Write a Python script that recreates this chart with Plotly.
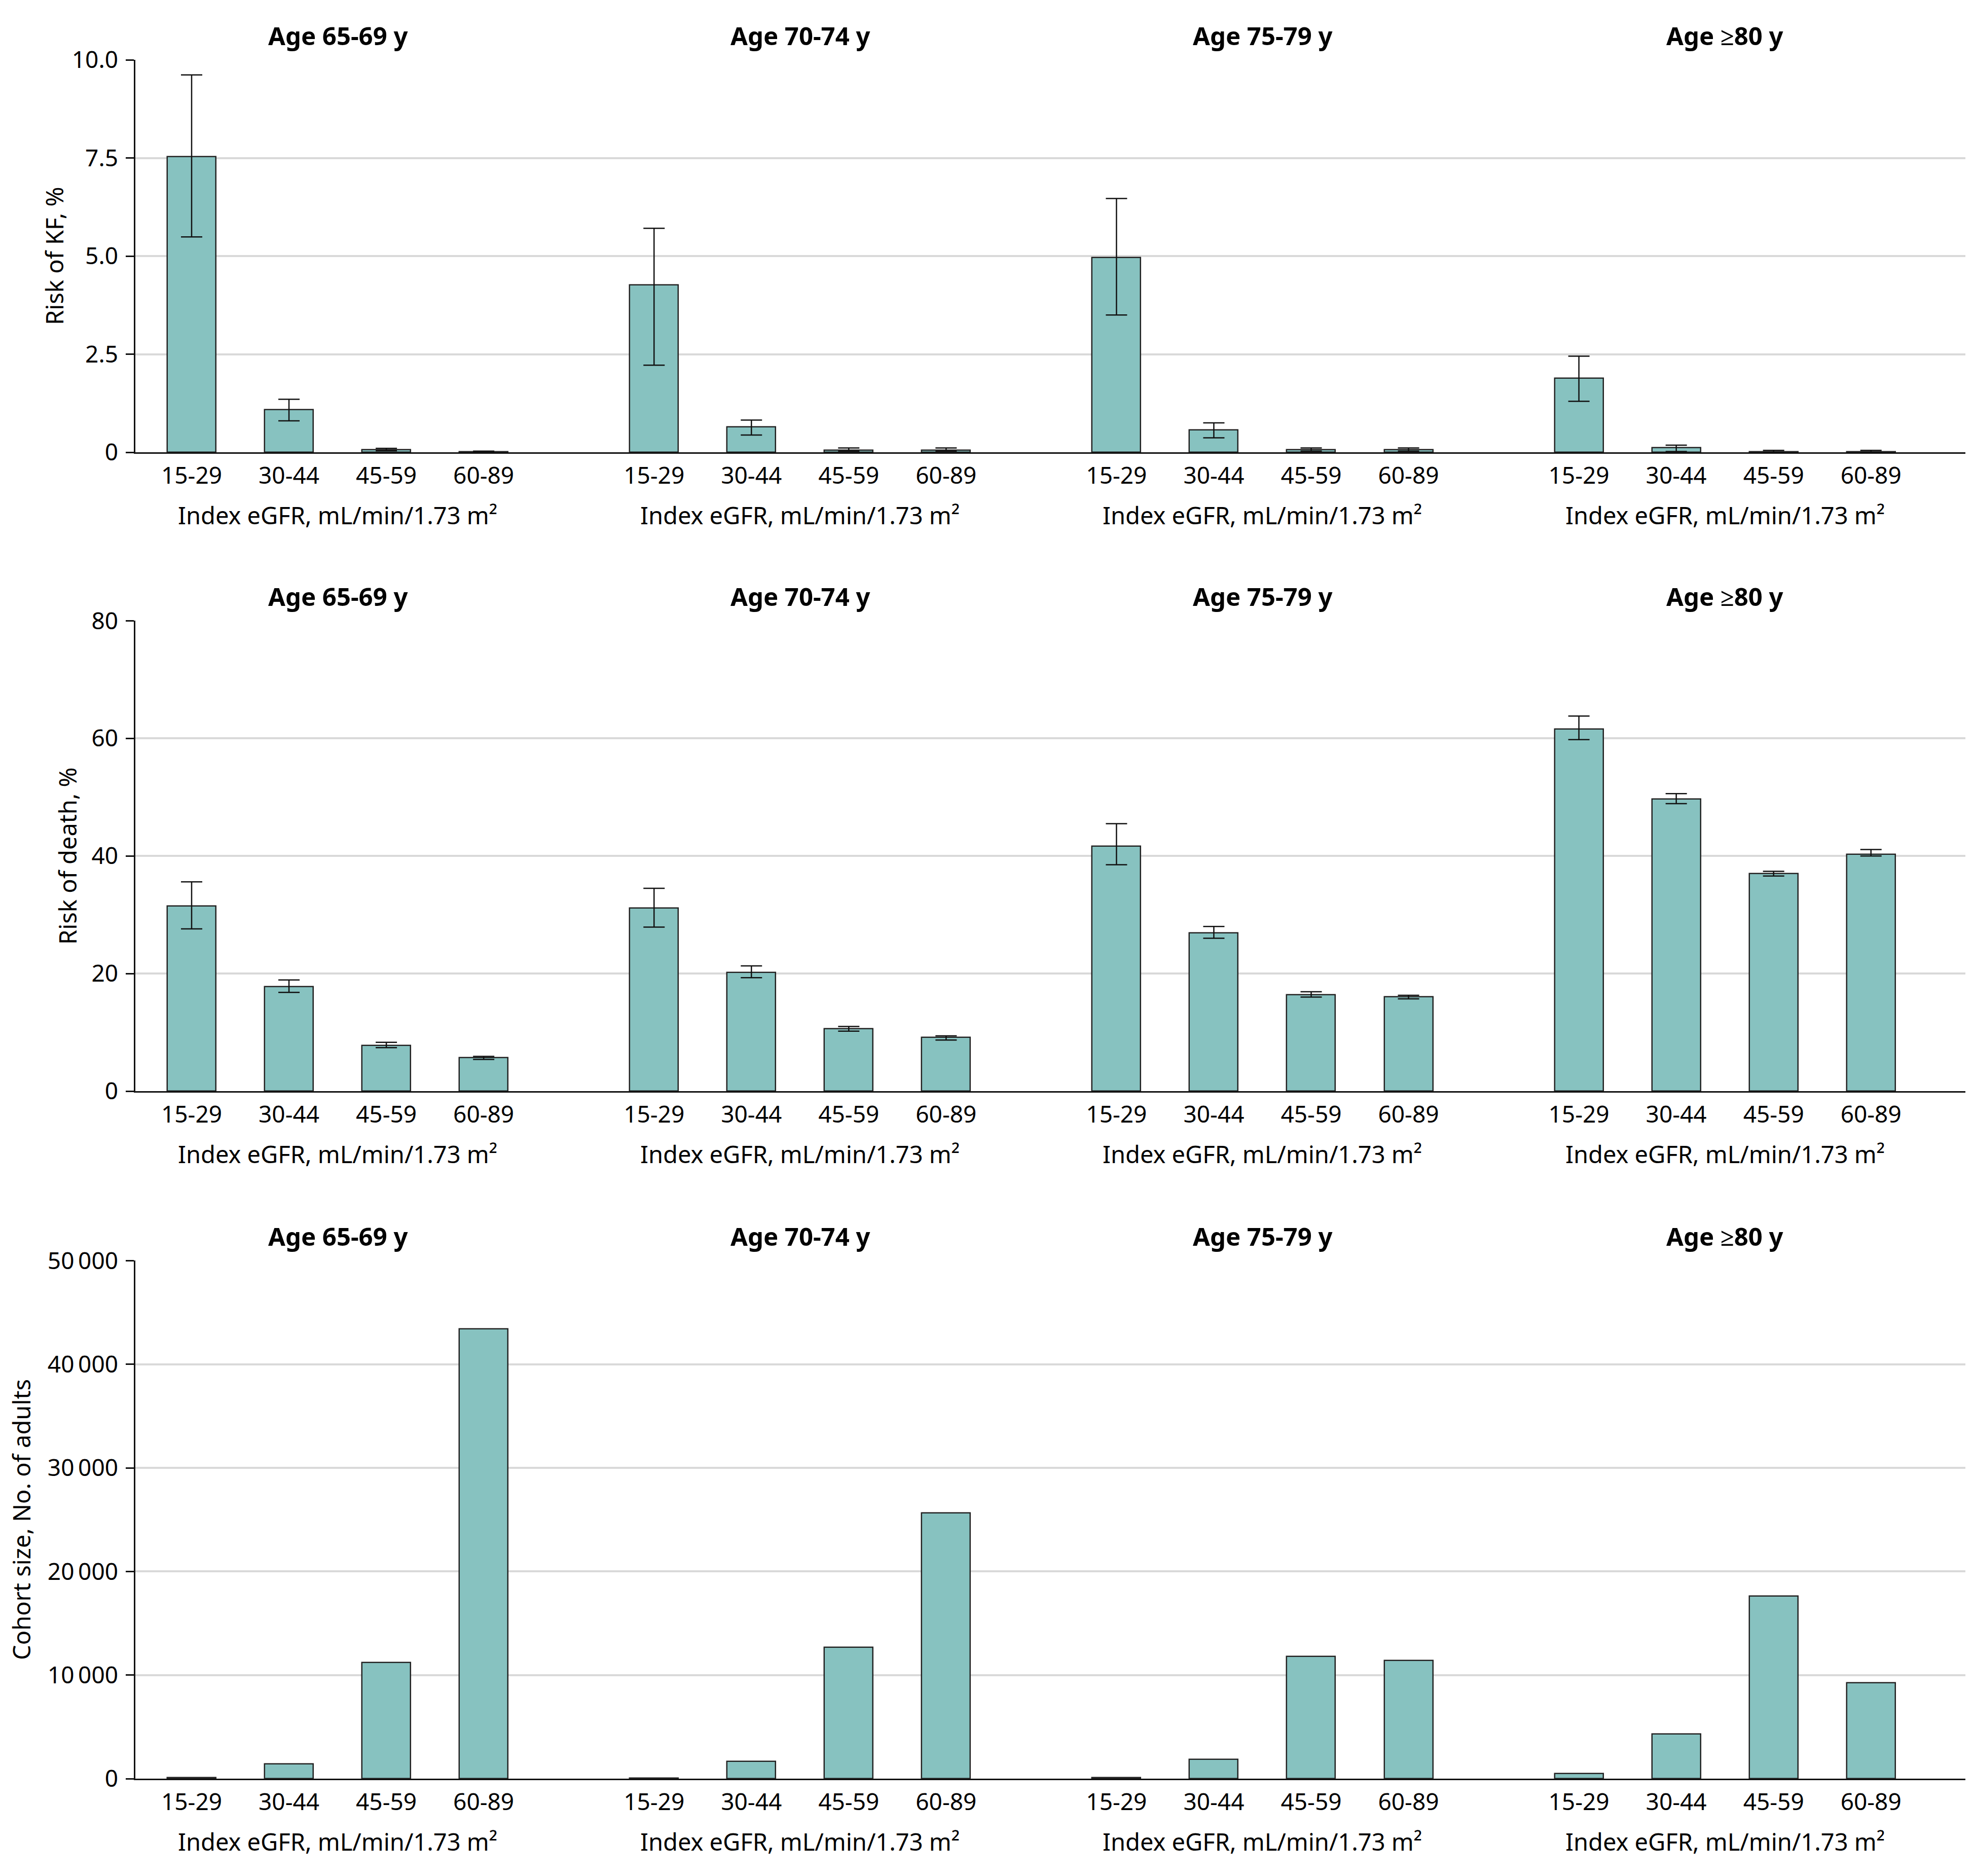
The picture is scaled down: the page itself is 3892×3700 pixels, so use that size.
import plotly.graph_objects as go

# eGFR categories and age groups
categories = ["15-29", "30-44", "45-59", "60-89"]
age_groups = ["Age 65-69 y", "Age 70-74 y", "Age 75-79 y", "Age \u226580 y"]

# Risk of kidney failure, % (estimate, lower and upper CI) per age group
kf_risk = [[7.53, 1.09, 0.07, 0.01], [4.27, 0.64, 0.05, 0.05],
           [4.96, 0.57, 0.06, 0.06], [1.89, 0.11, 0.01, 0.01]]
kf_low = [[5.49, 0.80, 0.04, 0.0], [2.22, 0.44, 0.03, 0.03],
          [3.50, 0.37, 0.03, 0.03], [1.30, 0.02, 0.0, 0.0]]
kf_high = [[9.62, 1.35, 0.10, 0.03], [5.71, 0.82, 0.11, 0.11],
           [6.47, 0.75, 0.11, 0.11], [2.45, 0.18, 0.05, 0.05]]

# Risk of death, %
death_risk = [[31.5, 17.8, 7.8, 5.7], [31.1, 20.2, 10.6, 9.1],
              [41.7, 26.9, 16.4, 16.0], [61.6, 49.7, 37.0, 40.3]]
death_low = [[27.6, 16.8, 7.4, 5.4], [27.9, 19.3, 10.2, 8.7],
             [38.5, 26.0, 16.0, 15.7], [59.8, 48.9, 36.6, 40.0]]
death_high = [[35.6, 18.9, 8.3, 5.9], [34.5, 21.3, 11.0, 9.4],
              [45.5, 28.0, 16.9, 16.3], [63.8, 50.6, 37.4, 41.1]]

# Cohort size, No. of adults
cohort = [[100, 1400, 11230, 43430], [70, 1650, 12700, 25640],
          [80, 1870, 11800, 11400], [490, 4300, 17640, 9250]]

# y axis ticks per row
kf_ticks = [0, 2.5, 5.0, 7.5, 10.0]
kf_ticktext = ["0", "2.5", "5.0", "7.5", "10.0"]
death_ticks = [0, 20, 40, 60, 80]
death_ticktext = ["0", "20", "40", "60", "80"]
cohort_ticks = [0, 10000, 20000, 30000, 40000, 50000]
cohort_ticktext = ["0", "10\u2009000", "20\u2009000", "30\u2009000", "40\u2009000", "50\u2009000"]

y_titles = ["Risk of KF, %", "Risk of death, %", "Cohort size, No. of adults"]
x_title = "Index eGFR, mL/min/1.73 m\u00b2"

W, H = 3892, 3700
OFF = 8  # page margin of the html body
FONT = "Noto Sans"
INK = "#000000"
BAR = "#87c2c0"
GROUP_STEP = 4.75

# pixel layout of the three rows (top, bottom of plot area) in page coords
rows_px = [(118, 892), (1224, 2152), (2486, 3508)]
x_left, x_right = 267, 3877


def py(px):
    # page pixel row -> paper fraction
    return 1 - (px - OFF) / H


def px_x(px):
    return (px - OFF) / W


def positions(g):
    return [g * GROUP_STEP + c for c in range(len(categories))]


fig = go.Figure()

row_data = [
    (kf_risk, kf_low, kf_high, kf_ticks, kf_ticktext, 10.0),
    (death_risk, death_low, death_high, death_ticks, death_ticktext, 80),
    (cohort, None, None, cohort_ticks, cohort_ticktext, 50000),
]

tickvals_x = []
ticktext_x = []
for g in range(len(age_groups)):
    tickvals_x += positions(g)
    ticktext_x += categories

annotations = []
for r, (vals, low, high, yt, ytt, ymax) in enumerate(row_data):
    n = r + 1
    xa = "x" if n == 1 else f"x{n}"
    ya = "y" if n == 1 else f"y{n}"
    for g in range(len(age_groups)):
        err = None
        if low is not None:
            err = dict(type="data", symmetric=False,
                       array=[h - v for h, v in zip(high[g], vals[g])],
                       arrayminus=[v - lo for v, lo in zip(vals[g], low[g])],
                       color="#111111", thickness=2.5, width=21)
        fig.add_trace(go.Bar(
            x=positions(g), y=vals[g], width=0.5, xaxis=xa, yaxis=ya,
            marker=dict(color=BAR, line=dict(color="#222222", width=2.5)),
            error_y=err, showlegend=False))

    top, bottom = rows_px[r]
    dom = [py(bottom), py(top)]
    fig.layout[f"xaxis{n if n > 1 else ''}"] = dict(
        domain=[px_x(x_left), px_x(x_right)], range=[-0.578, 18.22], anchor=ya,
        automargin=False,
        showline=True, linecolor="#111111", linewidth=2.5, showgrid=False,
        zeroline=False, tickmode="array", tickvals=tickvals_x, ticktext=ticktext_x,
        ticks="", ticklabelstandoff=4,
        tickfont=dict(family=FONT, size=46, color=INK))
    fig.layout[f"yaxis{n if n > 1 else ''}"] = dict(
        domain=dom, range=[0, ymax * 1.0005], anchor=xa,
        automargin=False,
        showline=True, linecolor="#111111", linewidth=2.5,
        showgrid=True, gridcolor="#d9d9d9", gridwidth=4, zeroline=False,
        tickmode="array", tickvals=yt, ticktext=ytt,
        ticks="outside", ticklen=16, tickwidth=2.5, tickcolor="#111111",
        ticklabelstandoff=6,
        tickfont=dict(family=FONT, size=46, color=INK))

    for g, name in enumerate(age_groups):
        cx = g * GROUP_STEP + 1.5
        annotations.append(dict(
            text=name, x=cx, xref=xa, y=py(top - 48),
            yref="paper", xanchor="center", yanchor="middle", showarrow=False,
            font=dict(family=FONT, size=49, color=INK, weight="bold")))
        annotations.append(dict(
            text=x_title, x=cx, xref=xa, y=py(bottom + 124),
            yref="paper", xanchor="center", yanchor="middle", showarrow=False,
            font=dict(family=FONT, size=47, color=INK)))

    title_x = [107, 133, 42][r]
    annotations.append(dict(
        text=y_titles[r], x=px_x(title_x), xref="paper", y=py((top + bottom) / 2),
        yref="paper", xanchor="center", yanchor="middle", textangle=-90,
        showarrow=False, font=dict(family=FONT, size=47, color=INK)))

fig.update_layout(
    width=W, height=H, margin=dict(l=0, r=0, t=0, b=0),
    paper_bgcolor="white", plot_bgcolor="white",
    bargap=0, annotations=annotations,
    font=dict(family=FONT, size=46, color=INK))

fig.write_html("out.html")
